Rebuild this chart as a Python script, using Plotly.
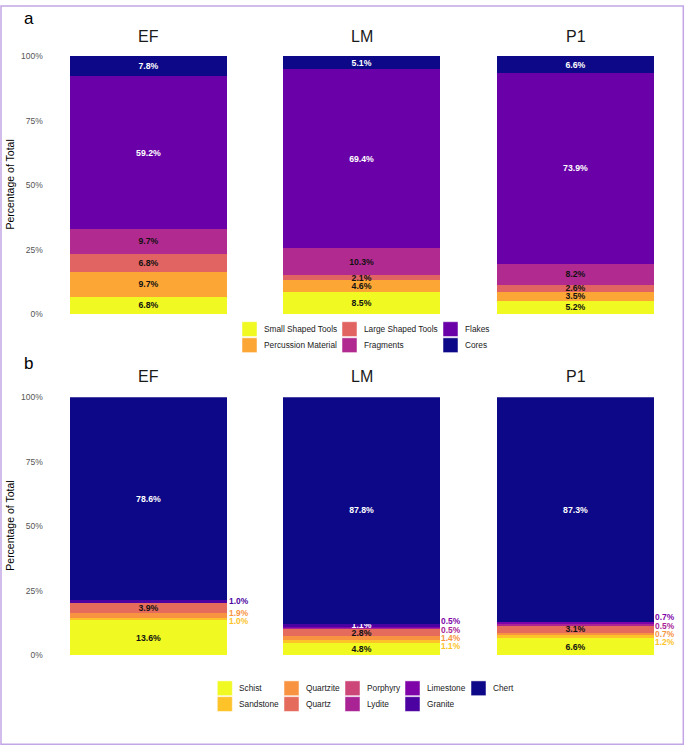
import plotly.graph_objects as go

# ---------------- data ----------------
facets = ["EF", "LM", "P1"]

tool_categories = ["Small Shaped Tools", "Percussion Material", "Large Shaped Tools",
                   "Fragments", "Flakes", "Cores"]
tool_colors = ["#F0F921", "#FCA636", "#E16462", "#B12A90", "#6A00A8", "#0D0887"]
tools_EF = [6.8, 9.7, 6.8, 9.7, 59.2, 7.8]
tools_LM = [8.5, 4.6, 2.1, 10.3, 69.4, 5.1]
tools_P1 = [5.2, 3.5, 2.6, 8.2, 73.9, 6.6]

raw_categories = ["Schist", "Sandstone", "Quartzite", "Quartz", "Porphyry",
                  "Lydite", "Limestone", "Granite", "Chert"]
raw_colors = ["#F0F921", "#FDC328", "#F89441", "#E56B5D", "#CC4678",
              "#A92395", "#7E03A8", "#4C02A1", "#0D0887"]
raw_EF = [13.6, 1.0, 1.9, 3.9, 0, 0, 0, 1.0, 78.6]
raw_LM = [4.8, 1.1, 1.4, 2.8, 0, 0.5, 0.5, 1.1, 87.8]
raw_P1 = [6.6, 1.2, 0.7, 3.1, 0, 0.5, 0.7, 0, 87.3]

y_ticks = [0, 25, 50, 75, 100]
y_ticklabels = ["0%", "25%", "50%", "75%", "100%"]

# ---------------- styling / layout constants ----------------
W, H = 685, 751
LBL_FONT = "Liberation Sans, Arial, sans-serif"
TXT_FONT = "Liberation Sans, Arial, sans-serif"
LBL_SIZE = 8.7
OUT_SIZE = 8.4
dark_cats = {"Flakes", "Cores", "Chert", "Granite"}
outside_labels = {"EF": {"Sandstone", "Quartzite", "Granite"},
                  "LM": {"Sandstone", "Quartzite", "Lydite", "Limestone"},
                  "P1": {"Sandstone", "Quartzite", "Lydite", "Limestone"}}

panel_x = [(43.8, 253.2), (257.2, 466.1), (471.2, 679.8)]   # px
panel_a_y = (51.7, 313.3)
panel_b_y = (397.5, 659.0)


def px(x):
    return x / W


def py(y):
    return 1 - y / H


def repel(mids, gap):
    order = sorted(range(len(mids)), key=lambda i: mids[i])
    clusters = []

    def start(c):
        return sum(mids[j] - n * gap for n, j in enumerate(c)) / len(c)

    for i in order:
        clusters.append([i])
        while len(clusters) > 1 and start(clusters[-2]) + len(clusters[-2]) * gap > start(clusters[-1]):
            b = clusters.pop()
            clusters[-1].extend(b)
    pos = [0.0] * len(mids)
    for c in clusters:
        s = start(c)
        for n, j in enumerate(c):
            pos[j] = s + n * gap
    return pos


fig = go.Figure()
annotations = []
shapes = []

panels = [
    (tool_categories, tool_colors, [tools_EF, tools_LM, tools_P1], 0),
    (raw_categories, raw_colors, [raw_EF, raw_LM, raw_P1], 3),
]

for cats, cols, series, off in panels:
    for fi, (fac, vals) in enumerate(zip(facets, series)):
        k = fi + 1 + off
        xa = "x" if k == 1 else f"x{k}"
        ya = "y" if k == 1 else f"y{k}"
        cum = 0.0
        out_mids, out_idx = [], []
        for ci, (cat, col, v) in enumerate(zip(cats, cols, vals)):
            if v <= 0:
                continue
            is_out = off == 3 and cat in outside_labels[fac]
            label = f"{v:.1f}%"
            fig.add_trace(go.Bar(
                x=[0], y=[v], width=0.9, name=cat,
                marker=dict(color=col, line=dict(width=0)),
                text=[None if is_out else label],
                textposition="inside", insidetextanchor="middle",
                textangle=0, constraintext="none",
                insidetextfont=dict(family=LBL_FONT, size=LBL_SIZE, weight="bold",
                                    color="#FFFFFF" if cat in dark_cats else "#111111"),
                xaxis=xa, yaxis=ya, showlegend=False,
                hovertemplate=f"{fac} – {cat}: {label}<extra></extra>",
            ))
            if is_out:
                out_mids.append(cum + v / 2)
                out_idx.append(ci)
            cum += v
        if out_mids:
            pos = repel(out_mids, 3.2)
            for p, ci in zip(pos, out_idx):
                annotations.append(dict(
                    x=0.45, y=p, xref=xa, yref=ya, xanchor="left", yanchor="middle",
                    xshift=0.5, showarrow=False, text=f"{vals[ci]:.1f}%", borderpad=0,
                    font=dict(family=LBL_FONT, size=OUT_SIZE, weight="bold", color=cols[ci]),
                ))

# axes
layout_axes = {}
for k in range(1, 7):
    fi = (k - 1) % 3
    ytop, ybot = panel_a_y if k <= 3 else panel_b_y
    xk = "xaxis" if k == 1 else f"xaxis{k}"
    yk = "yaxis" if k == 1 else f"yaxis{k}"
    layout_axes[xk] = dict(domain=[px(panel_x[fi][0]), px(panel_x[fi][1])],
                           range=[-0.6, 0.6], showticklabels=False, showgrid=False,
                           zeroline=False, showline=False, fixedrange=True,
                           anchor="y" if k == 1 else f"y{k}")
    layout_axes[yk] = dict(domain=[py(ybot), py(ytop)], range=[0, 100],
                           showgrid=False, zeroline=False, showline=False,
                           tickvals=y_ticks, ticktext=y_ticklabels,
                           showticklabels=(fi == 0), ticks="",
                           tickfont=dict(family=TXT_FONT, size=8.5, color="#555555"),
                           fixedrange=True,
                           anchor="x" if k == 1 else f"x{k}")

# facet titles, panel letters, axis titles
for ytop, ybot, letter, ly, ty in [(panel_a_y[0], panel_a_y[1], "a", 14, 32),
                                    (panel_b_y[0], panel_b_y[1], "b", 363.3, 377)]:
    annotations.append(dict(x=px(28.5), y=py(ly), xref="paper", yref="paper",
                            text=letter, showarrow=False, xanchor="center", yanchor="middle",
                            font=dict(family=TXT_FONT, size=17, color="#000000")))
    for fi, fac in enumerate(facets):
        annotations.append(dict(x=px((panel_x[fi][0] + panel_x[fi][1]) / 2), y=py(ty),
                                xref="paper", yref="paper", text=fac, showarrow=False,
                                xanchor="center", yanchor="middle",
                                font=dict(family=TXT_FONT, size=16, color="#1A1A1A")))
    annotations.append(dict(x=px(10.5), y=py((ytop + ybot) / 2), xref="paper", yref="paper",
                            text="Percentage of Total", textangle=-90, showarrow=False,
                            xanchor="center", yanchor="middle",
                            font=dict(family=TXT_FONT, size=10.5, color="#000000")))

# legends (column-major like the original)
legend_specs = [
    (tool_categories, tool_colors, [242, 342, 443], [328.5, 344.8]),
    (raw_categories, raw_colors, [217.3, 284, 345, 405, 471], [692.5, 708.5]),
]
SW = 15
for cats, cols, colx, rowy in legend_specs:
    for n, (cat, col) in enumerate(zip(cats, cols)):
        cx = colx[n // 2]
        cy = rowy[n % 2]
        shapes.append(dict(type="rect", xref="paper", yref="paper",
                           x0=px(cx), x1=px(cx + SW), y0=py(cy + SW / 2), y1=py(cy - SW / 2),
                           fillcolor=col, line=dict(color="#FFFFFF", width=0.5)))
        annotations.append(dict(x=px(cx + SW + 5), y=py(cy), xref="paper", yref="paper",
                                text=cat, showarrow=False, xanchor="left", yanchor="middle",
                                font=dict(family=TXT_FONT, size=8.3, color="#1A1A1A")))

# outer frame
shapes.append(dict(type="rect", xref="paper", yref="paper",
                   x0=px(1), x1=px(683.3), y0=py(749.3), y1=py(1),
                   line=dict(color="#C3A6E6", width=1.5), fillcolor="rgba(0,0,0,0)"))

fig.update_layout(
    width=W, height=H, margin=dict(l=0, r=0, t=0, b=0),
    paper_bgcolor="#FFFFFF", plot_bgcolor="#FFFFFF",
    barmode="stack", showlegend=False,
    annotations=annotations, shapes=shapes,
    font=dict(family=TXT_FONT),
    **layout_axes,
)

post = ("var gd=document.getElementById('{plot_id}');"
        "document.body.style.margin='0px';document.body.style.overflow='hidden';"
        "gd.style.position='absolute';gd.style.left='0px';gd.style.top='0px';")

fig.write_html("out.html", post_script=post, config={"displayModeBar": False})
